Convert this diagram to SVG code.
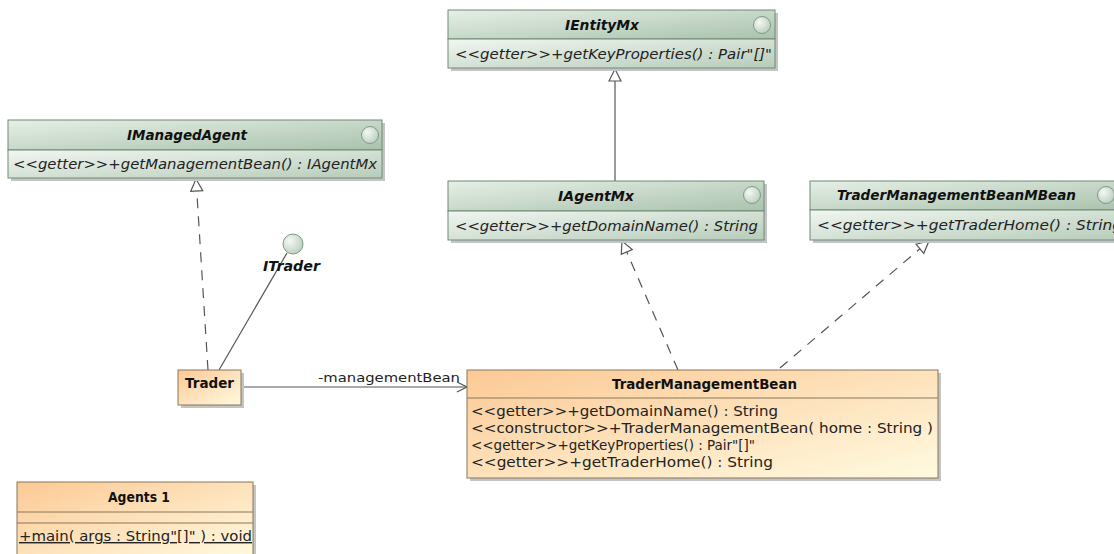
<svg xmlns="http://www.w3.org/2000/svg" width="1114" height="554" viewBox="0 0 1114 554">
  <defs>
    <linearGradient id="gIface" x1="0" y1="0" x2="1" y2="1">
      <stop offset="0" stop-color="#f1f6f1"/>
      <stop offset="1" stop-color="#b7ccba"/>
    </linearGradient>
    <linearGradient id="gIfaceHead" x1="0" y1="0" x2="1" y2="1">
      <stop offset="0" stop-color="#e6efe6"/>
      <stop offset="1" stop-color="#a9c2ad"/>
    </linearGradient>
    <linearGradient id="gClass" x1="0" y1="0" x2="1" y2="1">
      <stop offset="0" stop-color="#fcc995"/>
      <stop offset="1" stop-color="#fffae0"/>
    </linearGradient>
    <radialGradient id="gBall" cx="0.35" cy="0.35" r="0.7">
      <stop offset="0" stop-color="#f4f8f4"/>
      <stop offset="1" stop-color="#bccfc0"/>
    </radialGradient>
    <marker id="hollowTri" markerUnits="userSpaceOnUse" markerWidth="14" markerHeight="14" refX="12" refY="6" orient="auto" overflow="visible">
      <path d="M0,0 L12,6 L0,12 Z" fill="#ffffff" stroke="#555555" stroke-width="1.2" stroke-dasharray="none"/>
    </marker>
    <marker id="openArrow" markerUnits="userSpaceOnUse" markerWidth="12" markerHeight="12" refX="10" refY="5" orient="auto" overflow="visible">
      <path d="M0,0 L10,5 L0,10" fill="none" stroke="#555555" stroke-width="1.2"/>
    </marker>
  </defs>
  <style>
    .shadow { fill: #c4c4c4; }
    .iface { fill: url(#gIface); stroke: #6f8a75; stroke-width: 1; }
    .ifaceHead { fill: url(#gIfaceHead); stroke: #6f8a75; stroke-width: 1; }
    .cls { fill: url(#gClass); stroke: #8a7658; stroke-width: 1; }
    .sep { stroke: #8a7658; stroke-width: 1; }
    .ball { fill: url(#gBall); stroke: #7f9a86; stroke-width: 1; }
    .title { font-family: "DejaVu Sans", sans-serif; font-size: 14px; font-weight: bold; font-style: italic; fill: #111111; }
    .ctitle { font-family: "DejaVu Sans", sans-serif; font-size: 14px; font-weight: bold; fill: #111111; }
    .op { font-family: "DejaVu Sans", sans-serif; font-size: 14px; font-style: italic; fill: #222222; }
    .cop { font-family: "DejaVu Sans", sans-serif; font-size: 14px; fill: #222222; }
    .lbl { font-family: "DejaVu Sans", sans-serif; font-size: 13px; fill: #222222; }
    .edge { fill: none; stroke: #555555; stroke-width: 1.2; }
    .dash { stroke-dasharray: 10 8; }
  </style>

  <rect width="1114" height="554" fill="#ffffff"/>

  <!-- connectors -->
  <g id="connectors">
    <line class="edge" x1="615" y1="181" x2="615" y2="69" marker-end="url(#hollowTri)"/>
    <line class="edge dash" x1="208" y1="370" x2="196" y2="179" marker-end="url(#hollowTri)"/>
    <line class="edge" x1="219" y1="370" x2="287" y2="253"/>
    <line class="edge" x1="241" y1="387" x2="467" y2="387" marker-end="url(#openArrow)"/>
    <text class="lbl" x="318" y="382" textLength="142" lengthAdjust="spacingAndGlyphs">-managementBean</text>
    <line class="edge dash" x1="678" y1="370" x2="622" y2="241" marker-end="url(#hollowTri)"/>
    <line class="edge dash" x1="780" y1="368" x2="929" y2="241" marker-end="url(#hollowTri)"/>
  </g>

  <!-- interface IEntityMx -->
  <g id="IEntityMx">
    <rect class="shadow" x="451" y="13" width="327" height="58"/>
    <rect class="ifaceHead" x="448" y="10" width="327" height="29"/>
    <rect class="iface" x="448" y="39" width="327" height="29"/>
    <circle class="ball" cx="762" cy="25" r="8.5"/>
    <text class="title" x="565" y="30" textLength="74" lengthAdjust="spacingAndGlyphs">IEntityMx</text>
    <text class="op" x="455" y="59" textLength="317" lengthAdjust="spacingAndGlyphs">&lt;&lt;getter&gt;&gt;+getKeyProperties() : Pair"[]"</text>
  </g>

  <!-- interface IManagedAgent -->
  <g id="IManagedAgent">
    <rect class="shadow" x="11" y="123" width="374" height="58"/>
    <rect class="ifaceHead" x="8" y="120" width="374" height="30"/>
    <rect class="iface" x="8" y="150" width="374" height="28"/>
    <circle class="ball" cx="370" cy="135" r="8.5"/>
    <text class="title" x="127" y="140" textLength="120" lengthAdjust="spacingAndGlyphs">IManagedAgent</text>
    <text class="op" x="13" y="169" textLength="364" lengthAdjust="spacingAndGlyphs">&lt;&lt;getter&gt;&gt;+getManagementBean() : IAgentMx</text>
  </g>

  <!-- interface IAgentMx -->
  <g id="IAgentMx">
    <rect class="shadow" x="451" y="184" width="316" height="59"/>
    <rect class="ifaceHead" x="448" y="181" width="316" height="30"/>
    <rect class="iface" x="448" y="211" width="316" height="29"/>
    <circle class="ball" cx="752" cy="195" r="8.5"/>
    <text class="title" x="558" y="201" textLength="76" lengthAdjust="spacingAndGlyphs">IAgentMx</text>
    <text class="op" x="455" y="231" textLength="303" lengthAdjust="spacingAndGlyphs">&lt;&lt;getter&gt;&gt;+getDomainName() : String</text>
  </g>

  <!-- interface TraderManagementBeanMBean -->
  <g id="TraderManagementBeanMBean">
    <rect class="shadow" x="813" y="184" width="320" height="59"/>
    <rect class="ifaceHead" x="810" y="181" width="320" height="29"/>
    <rect class="iface" x="810" y="210" width="320" height="30"/>
    <circle class="ball" cx="1106" cy="195" r="8.5"/>
    <text class="title" x="837" y="200" textLength="239" lengthAdjust="spacingAndGlyphs">TraderManagementBeanMBean</text>
    <text class="op" x="817" y="230" textLength="305" lengthAdjust="spacingAndGlyphs">&lt;&lt;getter&gt;&gt;+getTraderHome() : String</text>
  </g>

  <!-- provided interface ITrader -->
  <g id="ITrader">
    <circle class="ball" cx="293" cy="244" r="10"/>
    <text class="title" x="263" y="271" textLength="57" lengthAdjust="spacingAndGlyphs">ITrader</text>
  </g>

  <!-- class Trader -->
  <g id="Trader">
    <rect class="shadow" x="181" y="373" width="63" height="35"/>
    <rect class="cls" x="178" y="370" width="63" height="35"/>
    <text class="ctitle" x="185" y="388" textLength="49" lengthAdjust="spacingAndGlyphs">Trader</text>
  </g>

  <!-- class TraderManagementBean -->
  <g id="TraderManagementBean">
    <rect class="shadow" x="470" y="373" width="471" height="108"/>
    <rect class="cls" x="467" y="370" width="471" height="108"/>
    <line class="sep" x1="467" y1="398" x2="938" y2="398"/>
    <text class="ctitle" x="612" y="389" textLength="185" lengthAdjust="spacingAndGlyphs">TraderManagementBean</text>
    <text class="cop" x="471" y="416" textLength="307" lengthAdjust="spacingAndGlyphs">&lt;&lt;getter&gt;&gt;+getDomainName() : String</text>
    <text class="cop" x="471" y="433" textLength="462" lengthAdjust="spacingAndGlyphs">&lt;&lt;constructor&gt;&gt;+TraderManagementBean( home : String )</text>
    <text class="cop" x="471" y="450" textLength="284" lengthAdjust="spacingAndGlyphs">&lt;&lt;getter&gt;&gt;+getKeyProperties() : Pair"[]"</text>
    <text class="cop" x="471" y="467" textLength="302" lengthAdjust="spacingAndGlyphs">&lt;&lt;getter&gt;&gt;+getTraderHome() : String</text>
  </g>

  <!-- class Agents 1 -->
  <g id="Agents1">
    <rect class="shadow" x="20" y="485" width="236" height="72"/>
    <rect class="cls" x="17" y="482" width="236" height="75"/>
    <line class="sep" x1="17" y1="512" x2="253" y2="512"/>
    <line class="sep" x1="17" y1="523" x2="253" y2="523"/>
    <text class="ctitle" x="108" y="502" textLength="62" lengthAdjust="spacingAndGlyphs">Agents 1</text>
    <text class="cop" x="19" y="541" textLength="233" lengthAdjust="spacingAndGlyphs" text-decoration="underline">+main( args : String"[]" ) : void</text>
  </g>
</svg>
